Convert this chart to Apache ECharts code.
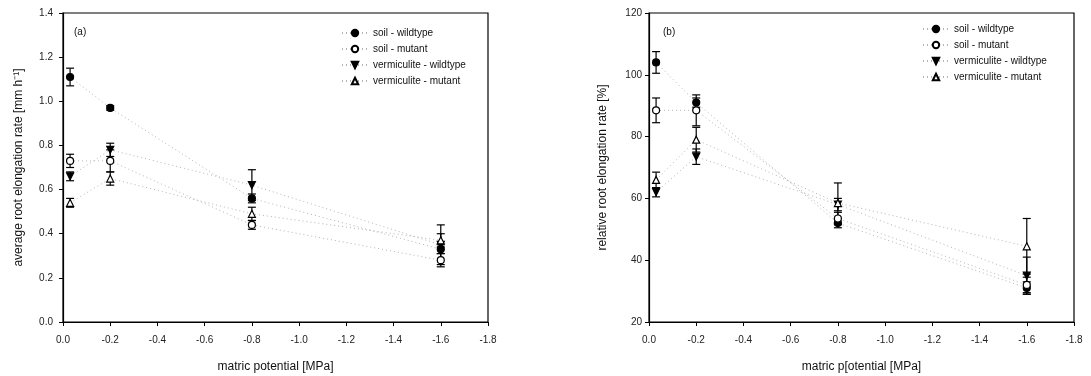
<!DOCTYPE html>
<html>
<head>
<meta charset="utf-8">
<script src="https://cdn.jsdelivr.net/npm/echarts@6/dist/echarts.min.js"></script>
<style>
  html, body { margin: 0; padding: 0; background: #fff; }
  #chart { width: 1091px; height: 376px; }
</style>
</head>
<body>
<div id="chart"></div>
<script>
// Matric potential of the treatments [MPa]
const potentials = [-0.03, -0.2, -0.8, -1.6];
const seriesNames = ['soil - wildtype', 'soil - mutant', 'vermiculite - wildtype', 'vermiculite - mutant'];

// (a) average root elongation rate [mm h-1] and its error
const aSoilWild = [1.11, 0.97, 0.56, 0.33];
const aSoilWildErr = [0.04, 0.01, 0.02, 0.02];
const aSoilMut = [0.73, 0.73, 0.44, 0.28];
const aSoilMutErr = [0.03, 0.05, 0.02, 0.03];
const aVermWild = [0.66, 0.78, 0.62, 0.35];
const aVermWildErr = [0.02, 0.03, 0.07, 0.09];
const aVermMut = [0.54, 0.65, 0.49, 0.37];
const aVermMutErr = [0.02, 0.03, 0.03, 0.03];

// (b) relative root elongation rate [%] and its error
const bSoilWild = [104, 91, 52, 31];
const bSoilWildErr = [3.5, 1.5, 1.5, 2];
const bSoilMut = [88.5, 88.5, 53.5, 32];
const bSoilMutErr = [4, 5, 2, 2.5];
const bVermWild = [62, 73.5, 58, 35];
const bVermWildErr = [1.5, 2.5, 2, 6];
const bVermMut = [66, 79, 58.5, 44.5];
const bVermMutErr = [2.5, 4, 6.5, 9];

const FONT = 'Liberation Sans, Arial, sans-serif';

const markerStyles = [
  { symbol: 'circle', rotate: 0, fill: '#000' },
  { symbol: 'circle', rotate: 0, fill: '#fff' },
  { symbol: 'triangle', rotate: 180, fill: '#000' },
  { symbol: 'triangle', rotate: 0, fill: '#fff' }
];

function pairs(values) {
  return values.map((v, i) => [potentials[i], v]);
}

function errorData(values, errs) {
  return values.map((v, i) => [potentials[i], v - errs[i], v + errs[i]]);
}

function errorSeries(gridIdx, values, errs) {
  return {
    type: 'custom',
    xAxisIndex: gridIdx,
    yAxisIndex: gridIdx,
    silent: true,
    z: 3,
    data: errorData(values, errs),
    renderItem: function (params, api) {
      const x = api.value(0);
      const lo = api.coord([x, api.value(1)]);
      const hi = api.coord([x, api.value(2)]);
      const cap = 4;
      const style = { stroke: '#000', lineWidth: 1.2 };
      return {
        type: 'group',
        children: [
          { type: 'line', shape: { x1: lo[0], y1: lo[1], x2: hi[0], y2: hi[1] }, style: style },
          { type: 'line', shape: { x1: lo[0] - cap, y1: lo[1], x2: lo[0] + cap, y2: lo[1] }, style: style },
          { type: 'line', shape: { x1: hi[0] - cap, y1: hi[1], x2: hi[0] + cap, y2: hi[1] }, style: style }
        ]
      };
    }
  };
}

function lineSeries(gridIdx, k, values) {
  const m = markerStyles[k];
  return {
    name: seriesNames[k],
    type: 'line',
    xAxisIndex: gridIdx,
    yAxisIndex: gridIdx,
    data: pairs(values),
    symbol: m.symbol,
    symbolRotate: m.rotate,
    symbolSize: 7,
    showSymbol: true,
    z: 5,
    lineStyle: { color: '#b4b4b4', width: 1, type: [1, 3] },
    itemStyle: { color: m.fill, borderColor: '#000', borderWidth: 1.2 },
    emphasis: { disabled: true }
  };
}

const panelA = [aSoilWild, aSoilMut, aVermWild, aVermMut];
const panelAErr = [aSoilWildErr, aSoilMutErr, aVermWildErr, aVermMutErr];
const panelB = [bSoilWild, bSoilMut, bVermWild, bVermMut];
const panelBErr = [bSoilWildErr, bSoilMutErr, bVermWildErr, bVermMutErr];

const series = [];
panelA.forEach((vals, k) => series.push(errorSeries(0, vals, panelAErr[k])));
panelB.forEach((vals, k) => series.push(errorSeries(1, vals, panelBErr[k])));
panelA.forEach((vals, k) => series.push(lineSeries(0, k, vals)));
panelB.forEach((vals, k) => series.push(lineSeries(1, k, vals)));

function xAxisDef(gridIdx, title) {
  return {
    type: 'value',
    gridIndex: gridIdx,
    min: -1.8,
    max: 0,
    interval: 0.2,
    inverse: true,
    name: title,
    nameLocation: 'middle',
    nameGap: 39,
    nameTextStyle: { fontFamily: FONT, fontSize: 12, color: '#111' },
    axisLine: { show: true, lineStyle: { color: '#000', width: 1.2 } },
    axisTick: { show: true, length: 4, lineStyle: { color: '#000' } },
    axisLabel: {
      fontFamily: FONT, fontSize: 10, color: '#222', margin: 13,
      formatter: v => (Math.abs(v) < 1e-9 ? '0.0' : v.toFixed(1))
    },
    splitLine: { show: false }
  };
}

function yAxisDef(gridIdx, min, max, interval, title, decimals, gap, labelMargin) {
  return {
    type: 'value',
    gridIndex: gridIdx,
    min: min,
    max: max,
    interval: interval,
    name: title,
    nameLocation: 'middle',
    nameGap: gap,
    nameTextStyle: { fontFamily: FONT, fontSize: 12, color: '#111' },
    axisLine: { show: true, lineStyle: { color: '#000', width: 1.2 } },
    axisTick: { show: true, length: 4, lineStyle: { color: '#000' } },
    axisLabel: {
      fontFamily: FONT, fontSize: 10, color: '#222', margin: labelMargin,
      formatter: v => v.toFixed(decimals)
    },
    splitLine: { show: false }
  };
}

function legendDef(left, top) {
  return {
    left: left,
    top: top,
    orient: 'vertical',
    itemGap: 6,
    itemWidth: 26,
    itemHeight: 8,
    selectedMode: false,
    textStyle: { fontFamily: FONT, fontSize: 10, color: '#111' },
    data: seriesNames
  };
}

const gridBase = {
  top: 13, width: 425, height: 309, show: true,
  borderColor: '#000', borderWidth: 1.2, backgroundColor: 'transparent',
  outerBoundsMode: 'none', containLabel: false
};

const chart = echarts.init(document.getElementById('chart'), null, { renderer: 'canvas' });
chart.setOption({
  animation: false,
  backgroundColor: '#fff',
  grid: [
    Object.assign({ left: 63 }, gridBase),
    Object.assign({ left: 649 }, gridBase)
  ],
  xAxis: [
    xAxisDef(0, 'matric potential [MPa]'),
    xAxisDef(1, 'matric p[otential [MPa]')
  ],
  yAxis: [
    yAxisDef(0, 0, 1.4, 0.2, 'average root elongation rate [mm h\u207B\u00B9]', 1, 38, 10),
    yAxisDef(1, 20, 120, 20, 'relative root elongation rate [%]', 0, 40, 7)
  ],
  legend: [legendDef(336, 23), legendDef(917, 19)],
  graphic: [
    { type: 'text', left: 74, top: 27, style: { text: '(a)', font: '10px ' + FONT, fill: '#111' } },
    { type: 'text', left: 663, top: 27, style: { text: '(b)', font: '10px ' + FONT, fill: '#111' } }
  ],
  series: series
});
</script>
</body>
</html>
